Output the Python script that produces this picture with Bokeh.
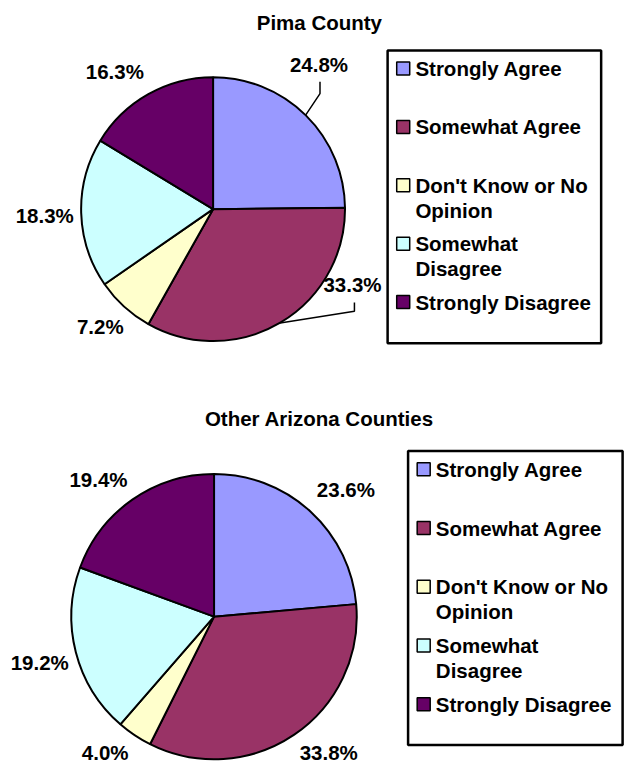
import math
from bokeh.plotting import figure
from bokeh.models import Range1d
from bokeh.core.properties import value
from bokeh.embed import file_html
from bokeh.resources import INLINE

# ---------------- data ----------------
categories = ["Strongly Agree", "Somewhat Agree", "Don't Know or No Opinion",
              "Somewhat Disagree", "Strongly Disagree"]
legend_lines = [["Strongly Agree"], ["Somewhat Agree"], ["Don't Know or No", "Opinion"],
                ["Somewhat", "Disagree"], ["Strongly Disagree"]]
pima_values = [24.8, 33.3, 7.2, 18.3, 16.3]
other_values = [23.6, 33.8, 4.0, 19.2, 19.4]
titles = ["Pima County", "Other Arizona Counties"]
colors = ["#9999FF", "#993366", "#FFFFCC", "#CCFFFF", "#660066"]

# ---------------- layout (reference-image pixel space, scaled into the figure) ----------------
W, H = 626, 768
KX = W / 642.0
KY = H / 784.0
K = (KX + KY) / 2
FONT = value("Liberation Sans")
FS = "20.5px"


def sx(X):
    return X * KX


def sy(Y):
    return H - Y * KY


charts = [
    dict(values=pima_values, title=titles[0], cx=218, cy=213, r=135, title_xy=(327, 22),
         box=(397, 51, 616, 350), spacing=59.6,
         nudges=[(-10, -28), (57, -68), (-2, -5), (-4, 1), (-18, 7)],
         leaders={0: (1, 18, 30), 1: (2, 18, 27)}),
    dict(values=other_values, title=titles[1], cx=219, cy=629, r=146, title_xy=(327, 427),
         box=(418, 460, 638, 760), spacing=60.0,
         nudges=[(12, 5), (15, -12), (-10, -13), (-2, 1), (-14, 10)],
         leaders={}),
]

p = figure(width=W, height=H, output_backend="svg", toolbar_location=None,
           x_range=Range1d(0, W), y_range=Range1d(0, H), min_border=0)
p.axis.visible = False
p.grid.visible = False
p.outline_line_color = None
p.background_fill_color = "white"
p.border_fill_color = "white"

for ch in charts:
    vals = ch["values"]
    total = sum(vals)
    cx, cy, r = ch["cx"], ch["cy"], ch["r"]
    starts, ends, mids = [], [], []
    cum = 0.0
    for v in vals:
        a0 = math.pi / 2 - 2 * math.pi * cum / total
        cum += v
        a1 = math.pi / 2 - 2 * math.pi * cum / total
        starts.append(a0)
        ends.append(a1)
        mids.append((a0 + a1) / 2)
    p.wedge(x=[sx(cx)] * len(vals), y=[sy(cy)] * len(vals), radius=r * K,
            start_angle=starts, end_angle=ends, direction="clock",
            fill_color=colors, line_color="black", line_width=2)

    # percentage labels
    lr = r * 1.25
    lx, ly = [], []
    for i, m in enumerate(mids):
        X = cx + lr * math.cos(m) + ch["nudges"][i][0]
        Y = cy - lr * math.sin(m) + ch["nudges"][i][1]
        lx.append(X)
        ly.append(Y)
    p.text(x=[sx(X) for X in lx], y=[sy(Y) for Y in ly],
           text=[f"{v:.1f}%" for v in vals], text_font=FONT, text_font_style="bold",
           text_font_size=FS, text_align="center", text_baseline="middle", text_color="black")

    # leader lines
    for i, (dx, d1, d2) in ch["leaders"].items():
        ex = cx + r * math.cos(mids[i])
        ey = cy - r * math.sin(mids[i])
        xs = [lx[i] + dx, lx[i] + dx, ex]
        ys = [ly[i] + d1, ly[i] + d2, ey]
        p.line([sx(X) for X in xs], [sy(Y) for Y in ys], line_color="black", line_width=1.5)

    # title
    tx, ty = ch["title_xy"]
    p.text(x=[sx(tx)], y=[sy(ty)], text=[ch["title"]], text_font=FONT, text_font_style="bold",
           text_font_size=FS, text_align="center", text_baseline="middle", text_color="black")

    # legend
    bl, bt, br, bb = ch["box"]
    p.quad(left=[sx(bl)], right=[sx(br)], top=[sy(bt)], bottom=[sy(bb)],
           fill_color="white", line_color="black", line_width=2.5)
    sw_x, sw_y, tx_l, tx_x, tx_y = [], [], [], [], []
    for i, lines in enumerate(legend_lines):
        y0 = bt + 18.5 + i * ch["spacing"]
        sw_x.append(sx(bl + 16))
        sw_y.append(sy(y0))
        for j, t in enumerate(lines):
            tx_l.append(t)
            tx_x.append(sx(bl + 28.5))
            tx_y.append(sy(y0 + j * 25.5))
    p.rect(x=sw_x, y=sw_y, width=13, height=13, fill_color=colors,
           line_color="black", line_width=1.5)
    p.text(x=tx_x, y=tx_y, text=tx_l, text_font=FONT, text_font_style="bold",
           text_font_size=FS, text_align="left", text_baseline="middle", text_color="black")

open("out.html", "w").write(file_html(p, INLINE))
